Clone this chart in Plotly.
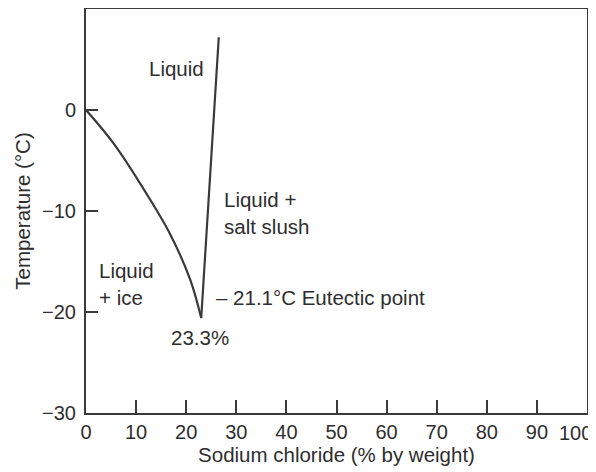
import plotly.graph_objects as go

# Data
ice_line_x = [0, 5.5, 12.1, 16.8, 20.8, 23.0]
ice_line_y = [0, -3.3, -8.3, -12.3, -16.8, -20.6]
salt_line_x = [23.0, 26.5]
salt_line_y = [-20.6, 7.2]
x_ticks = [0, 10, 20, 30, 40, 50, 60, 70, 80, 90, 100]
x_tick_text = ["0", "10", "20", "30", "40", "50", "60", "70", "80", "90", ""]
y_ticks = [0, -10, -20, -30]

region_labels = ["Liquid", "Liquid +<br>salt slush", "Liquid<br>+ ice"]
region_x = [18.0, 27.2, 2.1]
region_y = [4.1, -10.2, -17.2]

LINE = "#3a3a3a"
TXT = "#2e2e2e"
FONT = "Liberation Sans, Arial, sans-serif"
FS = 20.5

fig = go.Figure()
fig.add_trace(go.Scatter(x=ice_line_x, y=ice_line_y, mode="lines",
                         line=dict(color=LINE, width=2.2, shape="spline", smoothing=1.0),
                         showlegend=False, hoverinfo="skip"))
fig.add_trace(go.Scatter(x=salt_line_x, y=salt_line_y, mode="lines",
                         line=dict(color=LINE, width=2.2),
                         showlegend=False, hoverinfo="skip"))

# region labels
fig.add_annotation(x=region_x[0], y=region_y[0], text=region_labels[0],
                   showarrow=False, xanchor="center", yanchor="middle")
fig.add_annotation(x=region_x[1], y=region_y[1], text=region_labels[1],
                   showarrow=False, xanchor="left", yanchor="middle", align="left")
fig.add_annotation(x=region_x[2], y=region_y[2], text=region_labels[2],
                   showarrow=False, xanchor="left", yanchor="middle", align="left")
fig.add_annotation(x=25.5, y=-18.6, text="\u2013 21.1°C Eutectic point",
                   showarrow=False, xanchor="left", yanchor="middle")
fig.add_annotation(x=22.8, y=-22.5, text="23.3%",
                   showarrow=False, xanchor="center", yanchor="middle")
fig.update_annotations(font=dict(family=FONT, size=FS, color=TXT))

# last x tick label, shifted left to stay inside the picture
fig.add_annotation(x=100, y=0, xref="x", yref="paper", text="100",
                   showarrow=False, xanchor="center", yanchor="top",
                   xshift=-12, yshift=-7,
                   font=dict(family=FONT, size=20, color=TXT))

fig.update_xaxes(range=[0, 100], tickvals=x_ticks, ticktext=x_tick_text,
                 ticks="inside", ticklen=13,
                 tickwidth=2, tickcolor=LINE, showline=True, linecolor=LINE,
                 linewidth=2, mirror=True, showgrid=False, zeroline=False,
                 automargin=False,
                 tickfont=dict(family=FONT, size=20, color=TXT),
                 title=dict(text="Sodium chloride (% by weight)", standoff=3,
                            font=dict(family=FONT, size=FS, color=TXT)))
fig.update_yaxes(range=[-30, 10], tickvals=y_ticks, ticks="inside", ticklen=12,
                 tickwidth=2, tickcolor=LINE, showline=True, linecolor=LINE,
                 linewidth=2, mirror=True, showgrid=False, zeroline=False,
                 automargin=False, ticklabelstandoff=4,
                 tickfont=dict(family=FONT, size=20, color=TXT),
                 title=dict(text="Temperature (°C)", standoff=6,
                            font=dict(family=FONT, size=FS, color=TXT)))

# the page adds an 8 px body margin, so the figure is 8 px smaller
fig.update_layout(width=588, height=464,
                  margin=dict(l=78, r=9, t=1, b=59),
                  paper_bgcolor="white", plot_bgcolor="white")

fig.write_html("out.html")
